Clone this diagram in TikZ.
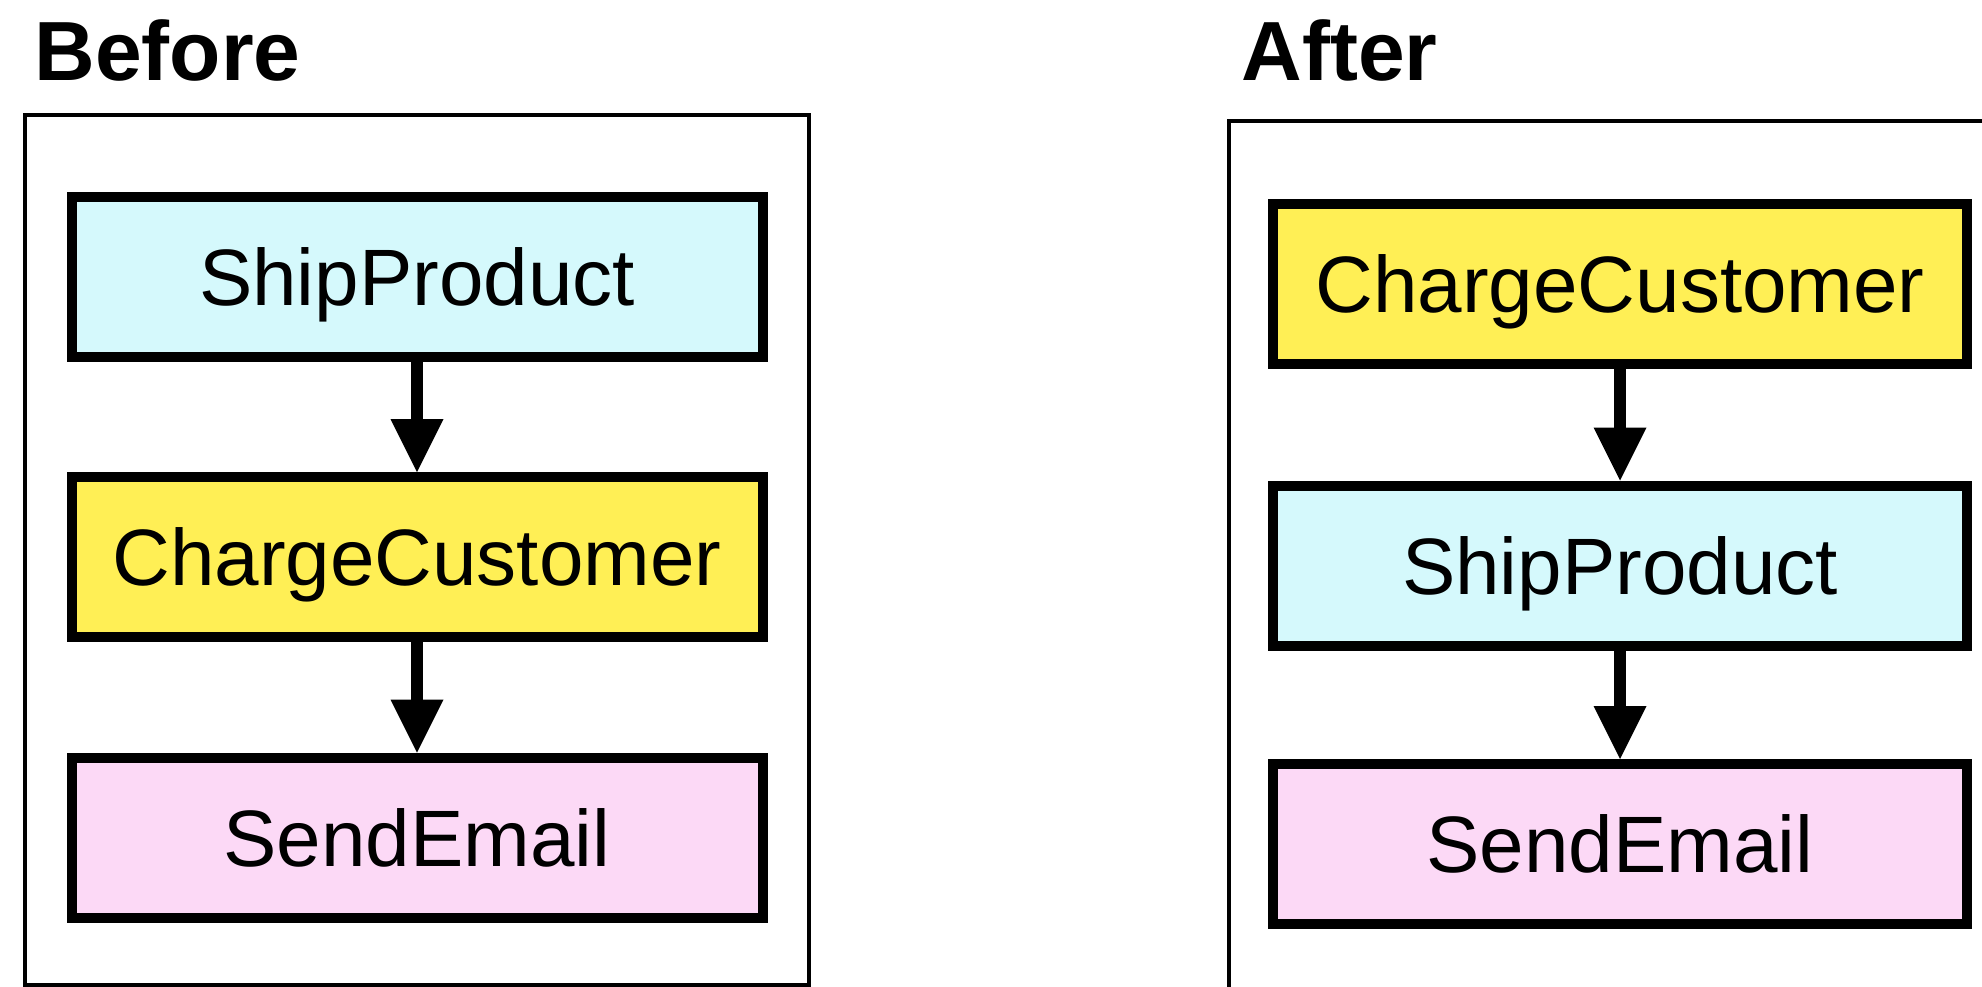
\documentclass[tikz,border=0pt]{standalone}
\usepackage{fontspec}
\setmainfont{Liberation Sans}
\usetikzlibrary{arrows.meta}
\definecolor{shipc}{HTML}{D5F9FC}
\definecolor{chargec}{HTML}{FFEF55}
\definecolor{emailc}{HTML}{FCD9F6}
\begin{document}
\begin{tikzpicture}[x=0.5pt,y=-0.5pt,
  stepbox/.style={draw=black, line width=5pt, minimum height=80pt, inner sep=0pt,
    font=\fontsize{40}{48}\selectfont, text height=28.7pt, text depth=0pt},
  leftbox/.style={stepbox, minimum width=345.5pt},
  rightbox/.style={stepbox, minimum width=347pt},
  flow/.style={line width=6.3pt, shorten <=-1pt, -{Triangle[length=26.5pt,width=26.5pt,line width=0pt]}},
  title/.style={font=\fontsize{42}{50}\selectfont\bfseries, anchor=base west, inner sep=0pt},
  frameline/.style={line width=2pt}]
\useasboundingbox (0,0) rectangle (1982,986);
% Before panel
\node[title] (tb) at (34,80) {Before};
\draw[frameline] (24.5,114.5) rectangle (808.5,984.5);
\node[leftbox, fill=shipc]   (l1) at (417,277)   {ShipProduct};
\node[leftbox, fill=chargec] (l2) at (417,557)   {ChargeCustomer};
\node[leftbox, fill=emailc]  (l3) at (417,837.5) {SendEmail};
\draw[flow] (l1) -- (l2);
\draw[flow] (l2) -- (l3);
% After panel
\node[title] (ta) at (1241,80) {After};
\draw[frameline] (1228.5,995) -- (1228.5,120.5) -- (1995,120.5);
\node[rightbox, fill=chargec] (r1) at (1620,284)   {ChargeCustomer};
\node[rightbox, fill=shipc]   (r2) at (1620,565.5) {ShipProduct};
\node[rightbox, fill=emailc]  (r3) at (1620,844)   {SendEmail};
\draw[flow] (r1) -- (r2);
\draw[flow] (r2) -- (r3);
\end{tikzpicture}
\end{document}
